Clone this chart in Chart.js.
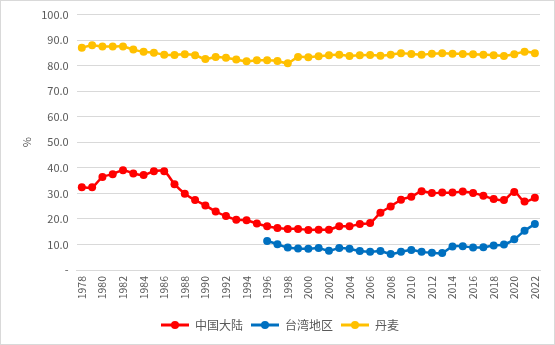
<!DOCTYPE html>
<html>
<head>
<meta charset="utf-8">
<script src="https://cdn.jsdelivr.net/npm/chart.js@4/dist/chart.umd.min.js"></script>
<style>
  html, body { margin: 0; padding: 0; background: #fff; }
  #wrap { width: 555px; height: 345px; }
</style>
</head>
<body>
<div id="wrap"><canvas id="c"></canvas></div>
<script>
const years = [];
for (let y = 1978; y <= 2022; y++) years.push(String(y));

const mainland = [32.4, 32.4, 36.4, 37.5, 39.1, 37.8, 37.2, 38.7, 38.7, 33.6,
  29.9, 27.4, 25.3, 22.9, 21.1, 19.7, 19.5, 18.2, 17.1, 16.4,
  16.1, 16.1, 15.7, 15.8, 15.8, 17.1, 17.1, 18.0, 18.4, 22.4,
  24.9, 27.5, 28.7, 30.8, 30.1, 30.3, 30.3, 30.7, 30.1, 29.1,
  27.8, 27.4, 30.5, 26.8, 28.3];

const taiwan = [null, null, null, null, null, null, null, null, null, null,
  null, null, null, null, null, null, null, null, 11.4, 10.1,
  8.8, 8.4, 8.3, 8.6, 7.5, 8.6, 8.3, 7.4, 7.1, 7.4,
  6.3, 7.1, 7.8, 7.1, 6.8, 6.7, 9.2, 9.3, 8.8, 8.9,
  9.6, 10.0, 12.0, 15.4, 18.0];

const denmark = [87.0, 88.0, 87.5, 87.5, 87.5, 86.3, 85.5, 85.1, 84.3, 84.2,
  84.5, 84.1, 82.6, 83.4, 83.1, 82.4, 81.7, 82.1, 82.1, 81.8,
  81.0, 83.4, 83.3, 83.7, 84.1, 84.3, 83.8, 84.1, 84.2, 83.9,
  84.3, 84.9, 84.6, 84.3, 84.7, 84.9, 84.7, 84.6, 84.5, 84.3,
  84.1, 83.8, 84.5, 85.5, 84.9];

const seriesNames = ['中国大陆', '台湾地区', '丹麦'];
const seriesColors = ['#FF0000', '#0070C0', '#FFC000'];

// legend marker: short line with a dot in the middle
function legendMarker(color) {
    const cv = document.createElement('canvas');
    cv.width = 28; cv.height = 10;
    const g = cv.getContext('2d');
    g.strokeStyle = color;
    g.lineWidth = 3;
    g.beginPath(); g.moveTo(0, 5); g.lineTo(28, 5); g.stroke();
    g.fillStyle = color;
    g.beginPath(); g.arc(14, 5, 4, 0, Math.PI * 2); g.fill();
    return cv;
}
const markers = seriesColors.map(legendMarker);

function makeSet(i, data) {
    return {
        label: seriesNames[i],
        data: data,
        borderColor: seriesColors[i],
        backgroundColor: seriesColors[i],
        borderWidth: 2.5,
        pointRadius: 4,
        pointHoverRadius: 4,
        pointBorderWidth: 0,
        tension: 0.3,
        spanGaps: false
    };
}

// thin frame round the whole chart area
const frame = {
    id: 'frame',
    afterDraw(chart) {
        const ctx = chart.ctx;
        ctx.save();
        ctx.strokeStyle = '#D9D9D9';
        ctx.lineWidth = 1;
        ctx.strokeRect(0.5, 0.5, chart.width - 1, chart.height - 1);
        ctx.restore();
    }
};

const axisFont = { family: "'Noto Sans CJK SC', 'Noto Sans', sans-serif", size: 11 };

new Chart(document.getElementById('c'), {
    type: 'line',
    data: {
        labels: years,
        datasets: [makeSet(0, mainland), makeSet(1, taiwan), makeSet(2, denmark)]
    },
    plugins: [frame],
    options: {
        responsive: true,
        maintainAspectRatio: false,
        animation: false,
        layout: { padding: { left: 20, right: 15, top: 7, bottom: 4 } },
        scales: {
            x: {
                offset: true,
                grid: { display: false, drawTicks: false },
                border: { display: true, color: '#D9D9D9' },
                afterFit: s => { s.height = 41; },
                ticks: {
                    autoSkip: false,
                    minRotation: 90,
                    maxRotation: 90,
                    padding: 6,
                    color: '#595959',
                    font: { family: axisFont.family, size: 10.5 },
                    callback: function (v, i) { return i % 2 === 0 ? this.getLabelForValue(v) : ''; }
                }
            },
            y: {
                min: 0,
                max: 100,
                grid: { color: '#D9D9D9', drawTicks: false },
                border: { display: false },
                ticks: {
                    stepSize: 10,
                    padding: 8,
                    color: '#595959',
                    font: axisFont,
                    callback: v => v === 0 ? '-' : v.toFixed(1)
                },
                title: {
                    display: true,
                    text: '%',
                    color: '#595959',
                    font: axisFont,
                    padding: { top: 0, bottom: 0 }
                }
            }
        },
        plugins: {
            tooltip: { enabled: false },
            legend: {
                position: 'bottom',
                labels: {
                    usePointStyle: true,
                    pointStyleWidth: 28,
                    boxHeight: 10,
                    padding: 8,
                    color: '#595959',
                    font: { family: axisFont.family, size: 12 },
                    generateLabels: chart => {
                        const items = Chart.defaults.plugins.legend.labels.generateLabels(chart);
                        items.forEach((it, i) => { it.pointStyle = markers[i]; });
                        return items;
                    }
                }
            }
        }
    }
});
</script>
</body>
</html>
